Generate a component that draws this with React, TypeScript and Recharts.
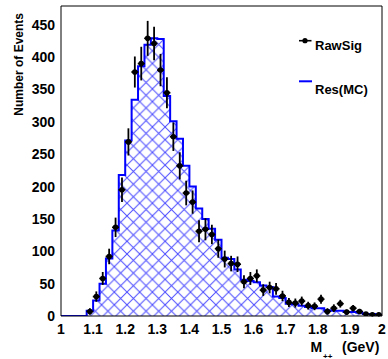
import React from "react";
import {
  ComposedChart,
  Area,
  Scatter,
  ErrorBar,
  XAxis,
  YAxis,
  Legend,
} from "recharts";

const FONT = '"Liberation Sans", Arial, Helvetica, sans-serif';

// 50 bins of 0.02 GeV from 1.0 to 2.0
const X_MIN = 1;
const BIN_WIDTH = 0.02;

// MC resolution histogram (blue, hatched)
const resCounts = [
  0, 0, 0, 0, 8, 24, 50, 89, 132, 218,
  271, 334, 386, 419, 429, 428, 340, 301, 274, 232,
  200, 166, 150, 135, 118, 90, 88, 72, 56, 54,
  52, 47, 45, 30, 28, 19, 18, 16, 14, 12,
  12, 9, 8, 8, 6, 6, 5, 3, 3, 2,
];

// raw signal points, starting at bin 4 (1.08-1.10)
const RAW_FIRST_BIN = 4;
const rawCounts = [
  7, 30, 58, 92, 137, 195, 269, 377, 390, 429,
  421, 380, 345, 277, 232, 190, 176, 131, 134, 126,
  104, 88, 81, 80, 53, 58, 62, 40, 44, 42,
  31, 21, 20, 23, 16, 15, 26, 7, 12, 19,
  6, 12, 7, 3, 2, 2,
];
const rawErrors = [
  5, 8, 10, 12, 15, 19, 21, 24, 26, 27,
  26, 25, 24, 22, 21, 19, 18, 17, 17, 15,
  14, 13, 12, 12, 10, 10, 10, 9, 9, 9,
  8, 7, 7, 7, 6, 6, 7, 5, 6, 6,
  4, 5, 4, 3, 3, 3,
];

const seriesNames = ["RawSig", "Res(MC)"];

const xTicks = [1, 1.1, 1.2, 1.3, 1.4, 1.5, 1.6, 1.7, 1.8, 1.9, 2];
const yTicks = [0, 50, 100, 150, 200, 250, 300, 350, 400, 450];
const Y_MAX = 479;

const xMinorTicks: number[] = [];
for (let i = 1; i < 50; i++) if (i % 5 !== 0) xMinorTicks.push(+(X_MIN + i * BIN_WIDTH).toFixed(2));
const yMinorTicks: number[] = [];
for (let v = 10; v <= 470; v += 10) if (v % 50 !== 0) yMinorTicks.push(v);

// step outline needs the left edge of every bin plus the right edge of the last one
const histData = resCounts.map((y, i) => ({ x: +(X_MIN + i * BIN_WIDTH).toFixed(2), y }));
histData.push({ x: 2, y: resCounts[resCounts.length - 1] });

const rawData = rawCounts.map((y, i) => ({
  x: +(X_MIN + (RAW_FIRST_BIN + i + 0.5) * BIN_WIDTH).toFixed(3),
  y,
  err: rawErrors[i],
}));

const tickFont = { fontSize: 14, fontWeight: "bold", fill: "#000", fontFamily: FONT };
const black = { stroke: "#000", strokeWidth: 1 };

const PointShape = (p: any) => (
  <g>
    <line x1={p.cx - 3.5} x2={p.cx + 3.5} y1={p.cy} y2={p.cy} stroke="#000" strokeWidth={1.6} />
    <circle cx={p.cx} cy={p.cy} r={2.8} fill="#000" />
  </g>
);

const renderLegend = () => (
  <svg width={92} height={80} style={{ display: "block" }}>
    <line x1={3} x2={15.5} y1={10.7} y2={10.7} stroke="#000" strokeWidth={1.6} />
    <circle cx={9} cy={10.7} r={2.6} fill="#000" />
    <text x={19} y={19.5} fontSize={13} fontWeight="bold" fontFamily={FONT} fill="#000">
      {seriesNames[0]}
    </text>
    <line x1={3} x2={16} y1={51.3} y2={51.3} stroke="#0000ff" strokeWidth={2} />
    <text x={19} y={64} fontSize={13} fontWeight="bold" fontFamily={FONT} fill="#000">
      {seriesNames[1]}
    </text>
  </svg>
);

const renderXTitle = () => (
  <g fontFamily={FONT} fontWeight="bold" fill="#000">
    <text x={310.5} y={352} fontSize={14}>M</text>
    <text x={342} y={352} fontSize={14}>(GeV)</text>
    <text x={323} y={358.5} fontSize={8}>++</text>
  </g>
);

const renderYTitle = () => (
  <text
    x={23}
    y={13}
    transform="rotate(-90 23 13)"
    textAnchor="end"
    fontSize={12}
    fontWeight="bold"
    fontFamily={FONT}
    fill="#000"
  >
    Number of Events
  </text>
);

export default function App() {
  return (
    <div style={{ position: "absolute", left: 0, top: 0, background: "#fff" }}>
      <ComposedChart width={388} height={359} margin={{ top: 6, right: 6, bottom: 0, left: 0 }}>
        <defs>
          <pattern id="hatch" patternUnits="userSpaceOnUse" width={12.7} height={12.7}>
            <path d="M0,0 L12.7,12.7 M12.7,0 L0,12.7" stroke="#4a4aff" strokeWidth={1} />
          </pattern>
        </defs>

        {/* main axes with labels */}
        <XAxis
          dataKey="x"
          type="number"
          domain={[1, 2]}
          ticks={xTicks}
          interval={0}
          allowDataOverflow
          height={43}
          tickLine={false}
          tickSize={0}
          tickMargin={8}
          axisLine={black}
          tick={tickFont}
          tickFormatter={(v) => String(v)}
          label={{ value: "M (GeV)", content: renderXTitle }}
        />
        <YAxis
          type="number"
          domain={[0, Y_MAX]}
          ticks={yTicks}
          interval={0}
          allowDataOverflow
          width={61}
          tickLine={false}
          tickSize={0}
          tickMargin={6}
          axisLine={black}
          tick={tickFont}
          label={{ value: "Number of Events", content: renderYTitle }}
        />

        {/* inward ticks on all four sides */}
        <XAxis xAxisId="bMaj" orientation="bottom" mirror type="number" domain={[1, 2]} ticks={xTicks} interval={0} allowDataOverflow tick={false} tickSize={8} tickLine={black} axisLine={false} />
        <XAxis xAxisId="bMin" orientation="bottom" mirror type="number" domain={[1, 2]} ticks={xMinorTicks} interval={0} allowDataOverflow tick={false} tickSize={4} tickLine={black} axisLine={false} />
        <XAxis xAxisId="tMaj" orientation="top" mirror type="number" domain={[1, 2]} ticks={xTicks} interval={0} allowDataOverflow tick={false} tickSize={8} tickLine={black} axisLine={black} />
        <XAxis xAxisId="tMin" orientation="top" mirror type="number" domain={[1, 2]} ticks={xMinorTicks} interval={0} allowDataOverflow tick={false} tickSize={4} tickLine={black} axisLine={false} />
        <YAxis yAxisId="lMaj" orientation="left" mirror type="number" domain={[0, Y_MAX]} ticks={yTicks} interval={0} allowDataOverflow tick={false} tickSize={8} tickLine={black} axisLine={false} />
        <YAxis yAxisId="lMin" orientation="left" mirror type="number" domain={[0, Y_MAX]} ticks={yMinorTicks} interval={0} allowDataOverflow tick={false} tickSize={4} tickLine={black} axisLine={false} />
        <YAxis yAxisId="rMaj" orientation="right" mirror type="number" domain={[0, Y_MAX]} ticks={yTicks} interval={0} allowDataOverflow tick={false} tickSize={8} tickLine={black} axisLine={black} />
        <YAxis yAxisId="rMin" orientation="right" mirror type="number" domain={[0, Y_MAX]} ticks={yMinorTicks} interval={0} allowDataOverflow tick={false} tickSize={4} tickLine={black} axisLine={false} />

        <Area
          data={histData}
          dataKey="y"
          name={seriesNames[1]}
          type="stepAfter"
          baseValue={0}
          stroke="#0000ff"
          strokeWidth={2}
          fill="url(#hatch)"
          fillOpacity={1}
          dot={false}
          activeDot={false}
          isAnimationActive={false}
        />
        <Scatter
          data={rawData}
          dataKey="y"
          name={seriesNames[0]}
          fill="#000"
          shape={PointShape}
          isAnimationActive={false}
        >
          <ErrorBar dataKey="err" direction="y" width={0} stroke="#000" strokeWidth={1.8} />
        </Scatter>

        <Legend
          layout="vertical"
          align="center"
          verticalAlign="middle"
          content={renderLegend}
          wrapperStyle={{ left: 296, top: 30, width: 92 }}
        />
      </ComposedChart>
    </div>
  );
}
